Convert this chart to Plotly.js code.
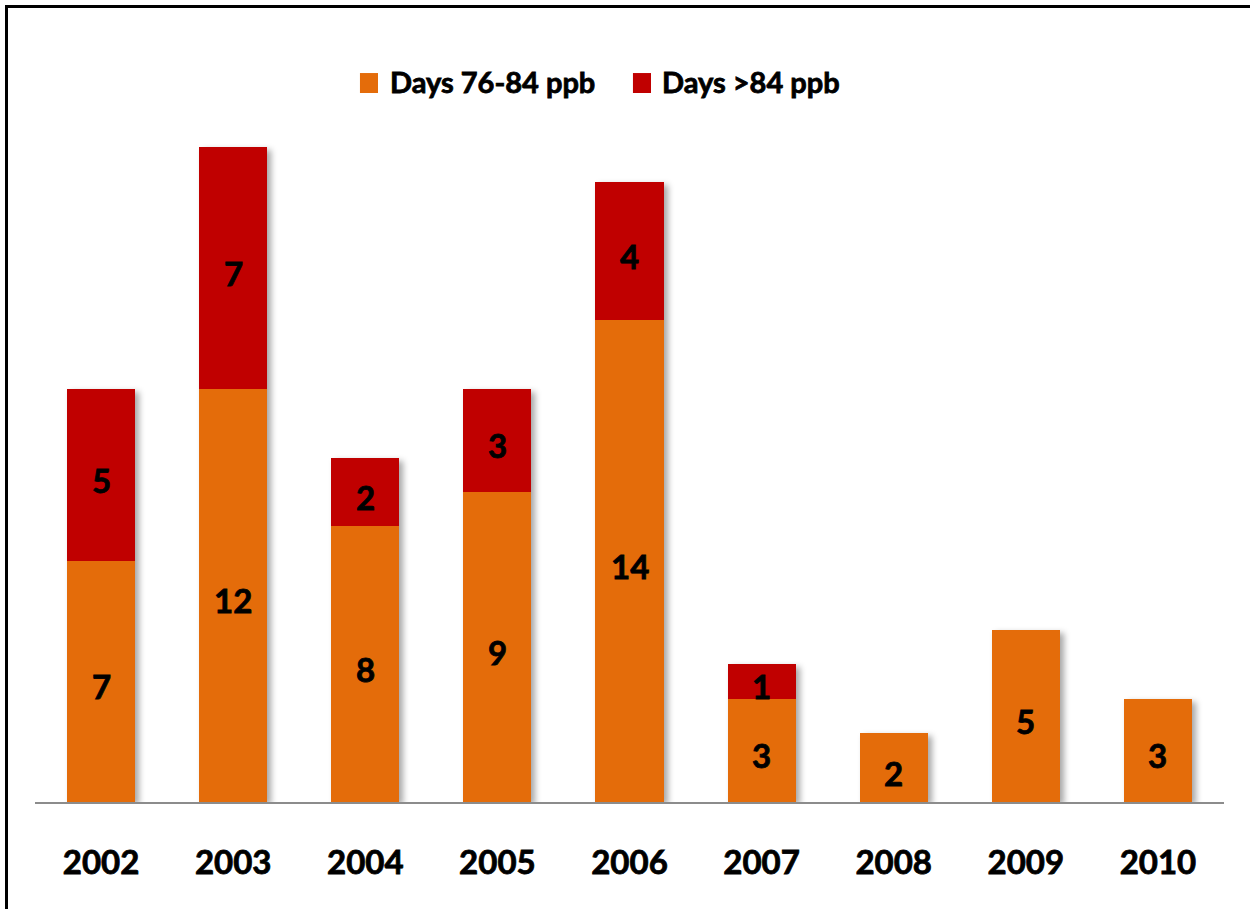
<!DOCTYPE html>
<html>
<head>
<meta charset="utf-8">
<script src="https://cdn.plot.ly/plotly-3.0.1.min.js"></script>
<style>
  html, body { margin: 0; padding: 0; background: #fff; }
  #wrap { position: relative; width: 1250px; height: 909px; overflow: hidden; }
  #chart { width: 1250px; height: 909px; }
  #frame { position: absolute; left: 5px; top: 5px; width: 1260px; height: 920px;
           border-left: 3px solid #000; border-top: 3px solid #000; pointer-events: none; }
  .barlayer { filter: drop-shadow(4px 3px 3px rgba(0,0,0,0.35)); }
  .xtick text, .annotation-text { stroke: #000; stroke-width: 0.8px; }
</style>
</head>
<body>
<div id="wrap">
  <div id="chart"></div>
  <div id="frame"></div>
</div>
<script>
const years = ['2002','2003','2004','2005','2006','2007','2008','2009','2010'];
const days76to84 = [7, 12, 8, 9, 14, 3, 2, 5, 3];
const daysOver84 = [5, 7, 2, 3, 4, 1, 0, 0, 0];
const seriesNames = ['Days 76-84 ppb', 'Days >84 ppb'];
const colors = ['#E46C0A', '#C00000'];

const FONT = 'Lato, "Open Sans", Arial, sans-serif';
const labelFont = {family: FONT, size: 33, color: '#000', weight: 'bold'};
const legendFont = {family: FONT, size: 29, color: '#000', weight: 'bold'};

const traces = [
  {type: 'bar', name: seriesNames[0], x: years, y: days76to84,
   marker: {color: colors[0]}, hoverinfo: 'none', showlegend: false},
  {type: 'bar', name: seriesNames[1], x: years, y: daysOver84,
   marker: {color: colors[1]}, hoverinfo: 'none', showlegend: false}
];

// value labels centred in each segment (x = category index)
const valueLabels = [];
years.forEach((yr, i) => {
  if (days76to84[i] > 0) valueLabels.push({x: i, y: days76to84[i] / 2, text: String(days76to84[i])});
  if (daysOver84[i] > 0) valueLabels.push({x: i, y: days76to84[i] + daysOver84[i] / 2, text: String(daysOver84[i])});
});

const annotations = valueLabels.map(l => ({
  xref: 'x', yref: 'y', x: l.x, y: l.y, text: l.text, showarrow: false,
  xanchor: 'center', yanchor: 'middle', yshift: -5, font: labelFont
}));
annotations.push(
  {xref: 'paper', yref: 'paper', x: 0.2969, y: 1.0455, xanchor: 'left', yanchor: 'middle',
   text: seriesNames[0], showarrow: false, font: legendFont},
  {xref: 'paper', yref: 'paper', x: 0.5257, y: 1.0455, xanchor: 'left', yanchor: 'middle',
   text: seriesNames[1], showarrow: false, font: legendFont}
);

const layout = {
  width: 1250, height: 909,
  margin: {l: 35, r: 26, t: 113, b: 107, pad: 0},
  paper_bgcolor: '#fff', plot_bgcolor: '#fff',
  barmode: 'stack', bargap: 0.485,
  showlegend: false,
  xaxis: {type: 'category', showgrid: false, zeroline: false,
          range: [-0.5, years.length - 0.5],
          showline: true, linecolor: '#8c8c8c', linewidth: 2,
          ticks: '', ticklabelstandoff: 30,
          tickfont: labelFont, fixedrange: true},
  yaxis: {range: [0, 20], visible: false, showgrid: false, zeroline: false, fixedrange: true},
  shapes: [
    {type: 'rect', xref: 'paper', yref: 'paper', x0: 0.2733, x1: 0.2885, y0: 1.029, y1: 1.058,
     fillcolor: colors[0], line: {width: 0}},
    {type: 'rect', xref: 'paper', yref: 'paper', x0: 0.5029, x1: 0.5181, y0: 1.029, y1: 1.058,
     fillcolor: colors[1], line: {width: 0}}
  ],
  annotations: annotations
};

Plotly.newPlot('chart', traces, layout, {displayModeBar: false, staticPlot: true});
</script>
</body>
</html>
